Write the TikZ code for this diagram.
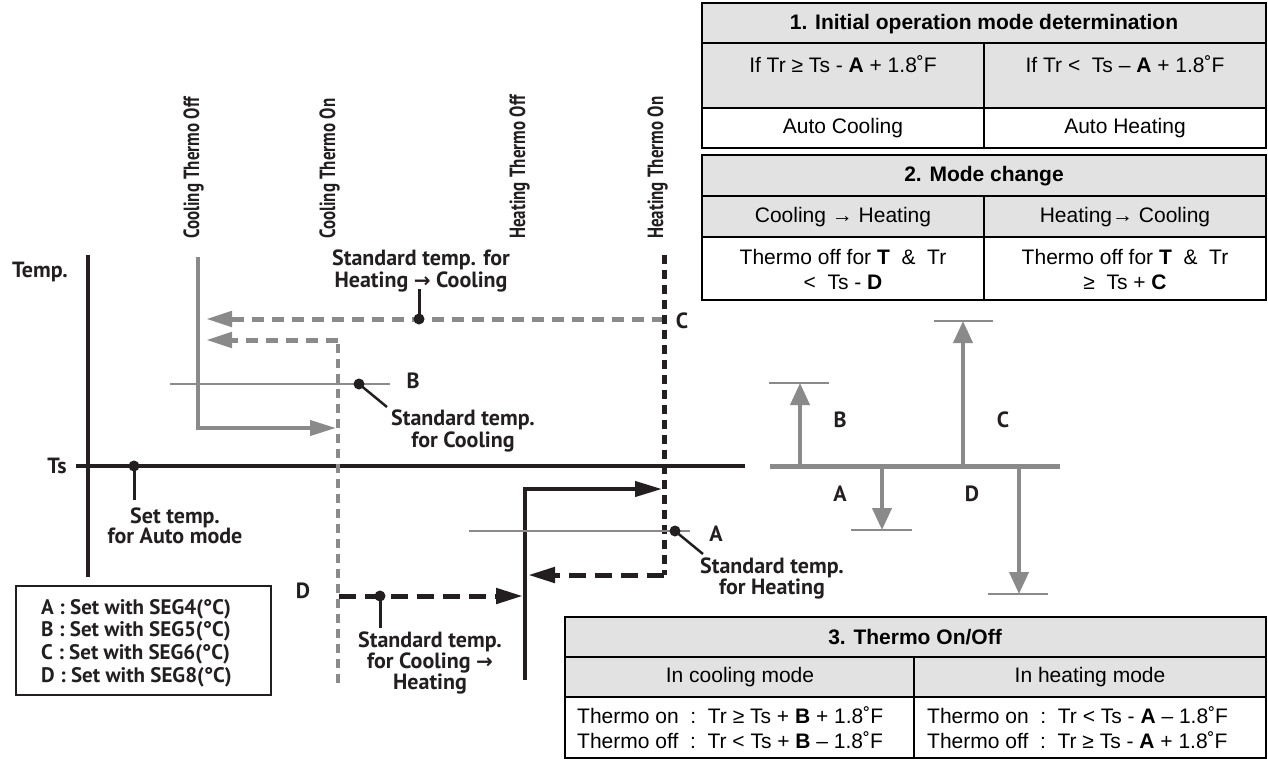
\documentclass[tikz,border=0pt]{standalone}
\usepackage{fontspec}
\setmainfont{Liberation Sans}
\newfontfamily\dfont{PT Sans}
\newfontfamily\cfont{PT Sans}[FakeStretch=0.77]
\newfontfamily\symfont{DejaVu Sans}
\usetikzlibrary{arrows.meta}
\definecolor{lg}{RGB}{138,138,138}
\definecolor{tgray}{RGB}{226,226,226}
\definecolor{ink}{RGB}{35,31,32}
\begin{document}
\begin{tikzpicture}[x=1pt,y=-1pt,
  tbl/.style={draw=black, line width=1.3pt},
  ttext/.style={font=\fontsize{21}{25}\selectfont, align=center, inner sep=0pt},
  thead/.style={font=\bfseries\fontsize{21}{24}\selectfont, inner sep=0pt},
  dlab/.style={font=\dfont\bfseries\fontsize{22}{20}\selectfont, text=ink, align=center, inner sep=0pt},
  vlab/.style={font=\cfont\bfseries\fontsize{22}{20}\selectfont, text=ink, rotate=90, anchor=base west, inner sep=0pt},
  gthick/.style={draw=lg, line width=4pt},
  gdash/.style={draw=lg, line width=5pt, dash pattern=on 12pt off 8pt},
  gvdash/.style={draw=lg, line width=4.5pt, dash pattern=on 9pt off 6pt},
  kdash/.style={draw=ink, line width=5pt, dash pattern=on 17pt off 9pt},
  kvdash/.style={draw=ink, line width=5pt, dash pattern=on 9pt off 6pt},
  gtip/.style={-{Triangle[length=26pt,width=15pt]}},
  ktip/.style={-{Triangle[length=27pt,width=15pt]}},
  rtip/.style={-{Triangle[length=22pt,width=19pt]}},
  thin/.style={draw=lg, line width=1.3pt},
  stem/.style={draw=ink, line width=3pt},
  dot/.style={fill=ink}
]
\useasboundingbox (0,0) rectangle (1268,761);

% ---------------- Table 1 ----------------
\fill[tgray] (702,3) rectangle (1266,108);
\draw[tbl] (702,3) rectangle (1266,148);
\draw[tbl] (702,43) -- (1266,43);
\draw[tbl] (702,108) -- (1266,108);
\draw[tbl] (984,43) -- (984,148);
\node[thead] (t1h) at (984,24) {1. Initial operation mode determination};
\node[ttext] (t1a) at (843,64) {If Tr ≥ Ts - \textbf{A} + 1.8˚F};
\node[ttext] (t1b) at (1125,64) {If Tr <\ \ Ts – \textbf{A} + 1.8˚F};
\node[ttext] (t1c) at (843,128) {Auto Cooling};
\node[ttext] (t1d) at (1125,128) {Auto Heating};

% ---------------- Table 2 ----------------
\fill[tgray] (702,155) rectangle (1266,237);
\draw[tbl] (702,155) rectangle (1266,300);
\draw[tbl] (702,196) -- (1266,196);
\draw[tbl] (702,237) -- (1266,237);
\draw[tbl] (984,196) -- (984,300);
\node[thead] (t2h) at (984,176) {2. Mode change};
\node[ttext] (t2a) at (843,217) {Cooling → Heating};
\node[ttext] (t2b) at (1125,217) {Heating→ Cooling};
\node[ttext] (t2c) at (843,269) {Thermo off for \textbf{T}\ \ \&\ \ Tr\\<\ \ Ts - \textbf{D}};
\node[ttext] (t2d) at (1125,269) {Thermo off for \textbf{T}\ \ \&\ \ Tr\\≥\ \ Ts + \textbf{C}};

% ---------------- Table 3 ----------------
\fill[tgray] (565,617) rectangle (1266,697);
\draw[tbl] (565,617) rectangle (1266,758);
\draw[tbl] (565,657) -- (1266,657);
\draw[tbl] (565,697) -- (1266,697);
\draw[tbl] (914,657) -- (914,758);
\node[thead] (t3h) at (915,637) {3. Thermo On/Off};
\node[ttext] (t3a) at (740,677) {In cooling mode};
\node[ttext] (t3b) at (1090,677) {In heating mode};
\node[ttext, anchor=west, align=left] (t3c) at (577,728) {Thermo on\ \ :\ \ Tr ≥ Ts + \textbf{B} + 1.8˚F\\Thermo off\ \ :\ \ Tr < Ts + \textbf{B} – 1.8˚F};
\node[ttext, anchor=west, align=left] (t3d) at (927,728) {Thermo on\ \ :\ \ Tr < Ts - \textbf{A} – 1.8˚F\\Thermo off\ \ :\ \ Tr ≥ Ts - \textbf{A} + 1.8˚F};

% ---------------- Left diagram ----------------
\coordinate (axT) at (88,255);
\coordinate (axB) at (88,577);
\coordinate (tsL) at (76,466);
\coordinate (tsR) at (745,466);
\draw[draw=ink, line width=4.5pt] (axT) -- (axB);
\draw[draw=ink, line width=4pt] (tsL) -- (tsR);
\node[dlab] (temp) at (40,272) {Temp.};
\node[dlab] (ts) at (57,466) {Ts};

% vertical labels
\node[vlab] (lab1) at (199,239) {Cooling Thermo Off};
\node[vlab] (lab2) at (335,239) {Cooling Thermo On};
\node[vlab] (lab3) at (525,239) {Heating Thermo Off};
\node[vlab] (lab4) at (663,239) {Heating Thermo On};

% cooling thermo off (gray solid)
\coordinate (g1a) at (198,257);
\coordinate (g1b) at (198,428);
\coordinate (g1c) at (336,428);
\draw[gthick, gtip] (g1a) -- (g1b) -- (g1c);

% cooling thermo on (gray dashed)
\coordinate (g2a) at (338,683);
\coordinate (g2b) at (338,340);
\coordinate (g2c) at (206,340);
\draw[gvdash] (g2a) -- (g2b);
\draw[gdash, gtip] (g2b) -- (g2c);

% heating -> cooling (gray dashed)
\coordinate (g3a) at (664,319);
\coordinate (g3b) at (206,319);
\draw[gdash, gtip] (g3a) -- (g3b);
\coordinate (hc) at (419,319);
\coordinate (hcs) at (419,289);
\draw[stem] (hc) -- (hcs);
\fill[dot] (hc) circle (5.5);
\node[dlab] (hclab) at (421,271) {Standard temp. for\\Heating {\symfont\fontsize{20}{20}\selectfont→} Cooling};
\node[dlab] (clab) at (682,321) {C};

% B line
\coordinate (bL) at (170,384);
\coordinate (bR) at (390,384);
\draw[thin] (bL) -- (bR);
\coordinate (bd) at (359,384);
\coordinate (be) at (387,407);
\draw[draw=ink, line width=2.5pt] (bd) -- (be);
\fill[dot] (bd) circle (5.5);
\node[dlab] (blab) at (413,381) {B};
\node[dlab] (bstd) at (463,431) {Standard temp.\\for Cooling};

% heating thermo on (black dashed)
\coordinate (k1a) at (664,255);
\coordinate (k1b) at (664,575);
\coordinate (k1c) at (528,575);
\draw[kvdash] (k1a) -- (k1b);
\draw[kdash, ktip] (k1b) -- (k1c);

% heating thermo off (black solid)
\coordinate (k2a) at (525,680);
\coordinate (k2b) at (525,489);
\coordinate (k2c) at (662,489);
\draw[draw=ink, line width=4pt, ktip] (k2a) -- (k2b) -- (k2c);

% A line
\coordinate (aL) at (469,531);
\coordinate (aR) at (690,531);
\draw[thin] (aL) -- (aR);
\coordinate (ad) at (675,531);
\coordinate (ae) at (703,554);
\draw[draw=ink, line width=2.5pt] (ad) -- (ae);
\fill[dot] (ad) circle (5.5);
\node[dlab] (alab) at (716,534) {A};
\node[dlab] (astd) at (772,578) {Standard temp.\\for Heating};

% D line (black dashed)
\coordinate (k3a) at (339,596);
\coordinate (k3b) at (523,596);
\draw[kdash, ktip] (k3a) -- (k3b);
\coordinate (dd) at (380,596);
\coordinate (ds) at (380,628);
\draw[stem] (dd) -- (ds);
\fill[dot] (dd) circle (5.5);
\node[dlab] (dlab) at (303,591) {D};
\node[dlab] (dstd) at (430,663) {Standard temp.\\for Cooling {\symfont\fontsize{20}{20}\selectfont→}\\Heating};

% set temp
\coordinate (sd) at (134,466);
\coordinate (ss) at (134,500);
\draw[stem] (sd) -- (ss);
\fill[dot] (sd) circle (5.5);
\node[dlab] (setlab) at (175,526) {Set temp.\\for Auto mode};

% legend
\node[draw=ink, line width=1.2pt, minimum width=255pt, minimum height=109pt, inner sep=0pt] (legend) at (143.5,640.5) {};
\node[font=\dfont\bfseries\fontsize{21}{22.6}\selectfont, text=ink, align=left, inner sep=0pt, anchor=west] (legtxt) at (41,643) {A : Set with SEG4(°C)\\B : Set with SEG5(°C)\\C : Set with SEG6(°C)\\D : Set with SEG8(°C)};

% ---------------- Right small diagram ----------------
\coordinate (rL) at (770,466);
\coordinate (rR) at (1060,466);
\draw[draw=lg, line width=5pt] (rL) -- (rR);
\coordinate (rb0) at (800,466); \coordinate (rb1) at (800,383);
\coordinate (ra0) at (882,466); \coordinate (ra1) at (882,530);
\coordinate (rc0) at (963,466); \coordinate (rc1) at (963,321);
\coordinate (rd0) at (1019,466); \coordinate (rd1) at (1019,594);
\draw[draw=lg, line width=4pt, rtip] (rb0) -- (rb1);
\draw[draw=lg, line width=4pt, rtip] (ra0) -- (ra1);
\draw[draw=lg, line width=4pt, rtip] (rc0) -- (rc1);
\draw[draw=lg, line width=4pt, rtip] (rd0) -- (rd1);
\draw[thin] (769,383) -- (829,383);
\draw[thin] (851,530) -- (912,530);
\draw[thin] (934,321) -- (993,321);
\draw[thin] (988,594) -- (1048,594);
\node[dlab] (rbl) at (840,420) {B};
\node[dlab] (ral) at (840,494) {A};
\node[dlab] (rcl) at (1003,420) {C};
\node[dlab] (rdl) at (972,494) {D};
\end{tikzpicture}
\end{document}
